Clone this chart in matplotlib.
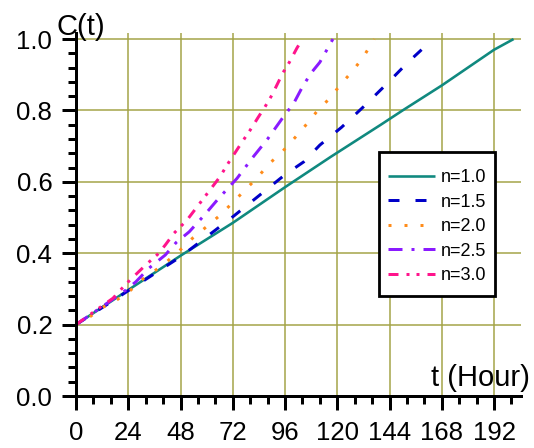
import matplotlib
matplotlib.use("Agg")
import matplotlib.pyplot as plt
from matplotlib.patches import Rectangle
import numpy as np

plt.rcParams['font.family'] = ['Liberation Sans', 'DejaVu Sans']
plt.rcParams['lines.scale_dashes'] = False

# Data (t in hours, C(t))
t_n10 = [0, 24, 48, 72, 96, 117, 140, 150, 168, 192, 201]
c_n10 = [0.2, 0.297, 0.393, 0.485, 0.585, 0.67, 0.76, 0.80, 0.87, 0.97, 1.0]

t_n15 = [0, 24, 48, 72, 96, 104.6, 112, 122, 132, 142.5, 152.5, 164]
c_n15 = [0.2, 0.295, 0.39, 0.502, 0.62, 0.656, 0.703, 0.753, 0.81, 0.873, 0.935, 1.0]

t_n20 = [0, 6, 11.5, 18.4, 24, 30, 35.4, 42, 47.5, 53.7, 59.7, 65.7, 71.7, 77.6, 83, 89, 95,
         100.6, 106, 111, 116.7, 121.7, 127, 132, 137]
c_n20 = [0.2, 0.22, 0.246, 0.268, 0.29, 0.325, 0.347, 0.378, 0.407, 0.443, 0.473, 0.504, 0.54,
         0.577, 0.61, 0.652, 0.686, 0.724, 0.762, 0.8, 0.835, 0.874, 0.91, 0.95, 1.0]

t_n25 = [0, 15, 23, 27.5, 33.5, 41, 46, 52, 59, 65, 74, 81, 88, 95, 100, 104, 108, 112, 118]
c_n25 = [0.2, 0.263, 0.297, 0.32, 0.358, 0.395, 0.43, 0.46, 0.507, 0.55, 0.61, 0.667, 0.72,
         0.78, 0.82, 0.866, 0.905, 0.935, 1.0]

t_n30 = [0, 8, 17, 23, 32, 37.7, 41, 45, 51, 59, 66, 70, 76, 80, 83.6, 86.8, 90, 95, 98, 101.5, 104]
c_n30 = [0.2, 0.235, 0.274, 0.314, 0.367, 0.398, 0.423, 0.456, 0.493, 0.557, 0.613, 0.653,
         0.709, 0.745, 0.78, 0.81, 0.843, 0.905, 0.935, 0.975, 1.0]

labels = ['n=1.0', 'n=1.5', 'n=2.0', 'n=2.5', 'n=3.0']
x_ticks = [0, 24, 48, 72, 96, 120, 144, 168, 192]
y_ticks = [0.0, 0.2, 0.4, 0.6, 0.8, 1.0]
y_ticklabels = ['0.0', '0.2', '0.4', '0.6', '0.8', '1.0']

W, H = 534, 448
fig = plt.figure(figsize=(W/100, H/100), dpi=100)
ax = fig.add_axes([76/W, 52/H, 445/W, 363/H])

px = 0.72  # points per pixel
ax.plot(t_n10, c_n10, color='#10897f', lw=2.6*px, label=labels[0], solid_capstyle='butt')
ax.plot(t_n15, c_n15, color='#0000c8', lw=3*px, label=labels[1],
        dashes=(11*px, 16*px), dash_capstyle='butt')
ax.plot(t_n20, c_n20, color='#ff8c1a', lw=3*px, label=labels[2],
        dashes=(3*px, 13*px), dash_capstyle='butt')
ax.plot(t_n25, c_n25, color='#8a1aff', lw=3*px, label=labels[3],
        dashes=(14*px, 9*px, 3*px, 9*px), dash_capstyle='butt')
ax.plot(t_n30, c_n30, color='#ff148c', lw=3*px, label=labels[4],
        dashes=(10*px, 8*px, 3*px, 7*px, 3*px, 8*px), dash_capstyle='butt')

ax.set_xlim(0, 204.4)
ax.set_ylim(0, 1.017)
ax.set_xticks(x_ticks)
ax.set_xticks(np.arange(0, 205, 8), minor=True)
ax.set_yticks(y_ticks)
ax.set_yticklabels(y_ticklabels)
ax.set_yticks(np.arange(0, 1.01, 0.04), minor=True)

ax.grid(True, which='major', color='#a3a345', lw=1.5*px)
ax.set_axisbelow(True)
for s in ['top', 'right']:
    ax.spines[s].set_visible(False)
for s in ['left', 'bottom']:
    ax.spines[s].set_linewidth(3*px)
    ax.spines[s].set_color('black')

ax.tick_params(which='major', direction='out', length=14*px, width=3*px, labelsize=18.5, pad=8)
ax.tick_params(which='minor', direction='out', length=8*px, width=3*px)
ax.tick_params(axis='y', pad=7)

fig.text(57/W, 1 - 35/H, 'C(t)', fontsize=21, ha='left', va='baseline')
fig.text(431/W, 1 - 386/H, 't (Hour)', fontsize=21, ha='left', va='baseline')

# Legend frame
frame = Rectangle((379/W, 1 - 296/H), 116/W, 144/H, transform=fig.transFigure,
                  facecolor='white', edgecolor='black', lw=2.8*px, zorder=3)
fig.patches.append(frame)

handles, lbls = ax.get_legend_handles_labels()
leg = fig.legend(handles, lbls, loc='upper left', bbox_to_anchor=(388/W, 1 - 169/H),
                 bbox_transform=fig.transFigure, fontsize=13, frameon=False,
                 handlelength=2.6, handletextpad=0.3, borderpad=0,
                 labelspacing=0.42, borderaxespad=0)
leg.set_zorder(5)

fig.savefig('out.png', dpi=100)
